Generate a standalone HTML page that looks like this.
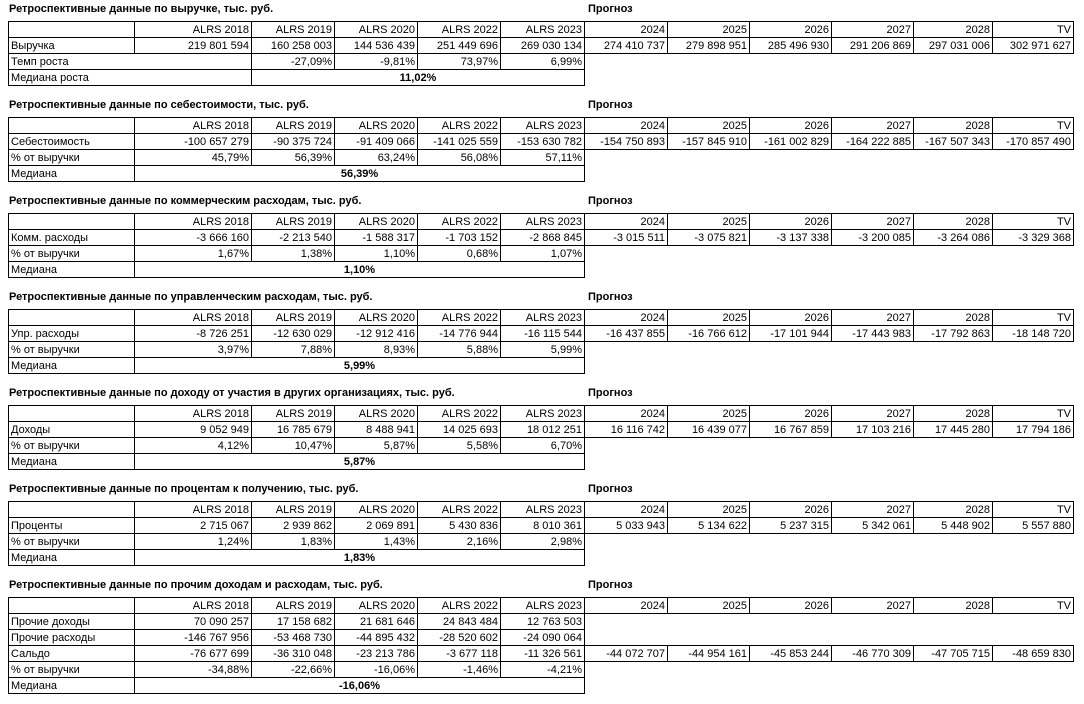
<!DOCTYPE html>
<html><head><meta charset="utf-8">
<style>
body{margin:0;width:1084px;height:704px;background:#fff;font-family:"Liberation Sans",Arial,sans-serif;font-size:11px;color:#000;position:relative;overflow:hidden}
.t{position:absolute;left:9px;font-weight:bold;font-size:11px;white-space:nowrap}
.p{position:absolute;left:588px;font-weight:bold;font-size:11px}
table{position:absolute;left:8px;border-collapse:collapse;table-layout:fixed;width:1065px}
td{border:1px solid #000;height:15px;padding:0 2px;text-align:right;white-space:nowrap;overflow:hidden;line-height:14px;font-size:11px}
td.l{text-align:left}
td.c{text-align:center;font-weight:bold}
td.n{border:none}
</style></head><body>
<colgroup></colgroup>

<div class="t" style="top:3px">Ретроспективные данные по выручке, тыс. руб.</div><div class="p" style="top:3px">Прогноз</div>
<table style="top:21px"><colgroup><col style="width:126px"><col style="width:117px"><col style="width:83px"><col style="width:83px"><col style="width:83px"><col style="width:84px"><col style="width:83px"><col style="width:82px"><col style="width:82px"><col style="width:82px"><col style="width:79px"><col style="width:81px"></colgroup>
<tr><td></td><td>ALRS 2018</td><td>ALRS 2019</td><td>ALRS 2020</td><td>ALRS 2022</td><td>ALRS 2023</td><td>2024</td><td>2025</td><td>2026</td><td>2027</td><td>2028</td><td>TV</td></tr>
<tr><td class="l">Выручка</td><td>219 801 594</td><td>160 258 003</td><td>144 536 439</td><td>251 449 696</td><td>269 030 134</td><td>274 410 737</td><td>279 898 951</td><td>285 496 930</td><td>291 206 869</td><td>297 031 006</td><td>302 971 627</td></tr>
<tr><td class="l" colspan="2">Темп роста</td><td>-27,09%</td><td>-9,81%</td><td>73,97%</td><td>6,99%</td><td class="n"></td><td class="n"></td><td class="n"></td><td class="n"></td><td class="n"></td><td class="n"></td></tr>
<tr><td class="l" colspan="2">Медиана роста</td><td class="c" colspan="4">11,02%</td><td class="n"></td><td class="n"></td><td class="n"></td><td class="n"></td><td class="n"></td><td class="n"></td></tr>
</table>

<div class="t" style="top:99px">Ретроспективные данные по себестоимости, тыс. руб.</div><div class="p" style="top:99px">Прогноз</div>
<table style="top:117px"><colgroup><col style="width:126px"><col style="width:117px"><col style="width:83px"><col style="width:83px"><col style="width:83px"><col style="width:84px"><col style="width:83px"><col style="width:82px"><col style="width:82px"><col style="width:82px"><col style="width:79px"><col style="width:81px"></colgroup>
<tr><td></td><td>ALRS 2018</td><td>ALRS 2019</td><td>ALRS 2020</td><td>ALRS 2022</td><td>ALRS 2023</td><td>2024</td><td>2025</td><td>2026</td><td>2027</td><td>2028</td><td>TV</td></tr>
<tr><td class="l">Себестоимость</td><td>-100 657 279</td><td>-90 375 724</td><td>-91 409 066</td><td>-141 025 559</td><td>-153 630 782</td><td>-154 750 893</td><td>-157 845 910</td><td>-161 002 829</td><td>-164 222 885</td><td>-167 507 343</td><td>-170 857 490</td></tr>
<tr><td class="l">% от выручки</td><td>45,79%</td><td>56,39%</td><td>63,24%</td><td>56,08%</td><td>57,11%</td><td class="n"></td><td class="n"></td><td class="n"></td><td class="n"></td><td class="n"></td><td class="n"></td></tr>
<tr><td class="l">Медиана</td><td class="c" colspan="5">56,39%</td><td class="n"></td><td class="n"></td><td class="n"></td><td class="n"></td><td class="n"></td><td class="n"></td></tr>
</table>

<div class="t" style="top:195px">Ретроспективные данные по коммерческим расходам, тыс. руб.</div><div class="p" style="top:195px">Прогноз</div>
<table style="top:213px"><colgroup><col style="width:126px"><col style="width:117px"><col style="width:83px"><col style="width:83px"><col style="width:83px"><col style="width:84px"><col style="width:83px"><col style="width:82px"><col style="width:82px"><col style="width:82px"><col style="width:79px"><col style="width:81px"></colgroup>
<tr><td></td><td>ALRS 2018</td><td>ALRS 2019</td><td>ALRS 2020</td><td>ALRS 2022</td><td>ALRS 2023</td><td>2024</td><td>2025</td><td>2026</td><td>2027</td><td>2028</td><td>TV</td></tr>
<tr><td class="l">Комм. расходы</td><td>-3 666 160</td><td>-2 213 540</td><td>-1 588 317</td><td>-1 703 152</td><td>-2 868 845</td><td>-3 015 511</td><td>-3 075 821</td><td>-3 137 338</td><td>-3 200 085</td><td>-3 264 086</td><td>-3 329 368</td></tr>
<tr><td class="l">% от выручки</td><td>1,67%</td><td>1,38%</td><td>1,10%</td><td>0,68%</td><td>1,07%</td><td class="n"></td><td class="n"></td><td class="n"></td><td class="n"></td><td class="n"></td><td class="n"></td></tr>
<tr><td class="l">Медиана</td><td class="c" colspan="5">1,10%</td><td class="n"></td><td class="n"></td><td class="n"></td><td class="n"></td><td class="n"></td><td class="n"></td></tr>
</table>

<div class="t" style="top:291px">Ретроспективные данные по управленческим расходам, тыс. руб.</div><div class="p" style="top:291px">Прогноз</div>
<table style="top:309px"><colgroup><col style="width:126px"><col style="width:117px"><col style="width:83px"><col style="width:83px"><col style="width:83px"><col style="width:84px"><col style="width:83px"><col style="width:82px"><col style="width:82px"><col style="width:82px"><col style="width:79px"><col style="width:81px"></colgroup>
<tr><td></td><td>ALRS 2018</td><td>ALRS 2019</td><td>ALRS 2020</td><td>ALRS 2022</td><td>ALRS 2023</td><td>2024</td><td>2025</td><td>2026</td><td>2027</td><td>2028</td><td>TV</td></tr>
<tr><td class="l">Упр. расходы</td><td>-8 726 251</td><td>-12 630 029</td><td>-12 912 416</td><td>-14 776 944</td><td>-16 115 544</td><td>-16 437 855</td><td>-16 766 612</td><td>-17 101 944</td><td>-17 443 983</td><td>-17 792 863</td><td>-18 148 720</td></tr>
<tr><td class="l">% от выручки</td><td>3,97%</td><td>7,88%</td><td>8,93%</td><td>5,88%</td><td>5,99%</td><td class="n"></td><td class="n"></td><td class="n"></td><td class="n"></td><td class="n"></td><td class="n"></td></tr>
<tr><td class="l">Медиана</td><td class="c" colspan="5">5,99%</td><td class="n"></td><td class="n"></td><td class="n"></td><td class="n"></td><td class="n"></td><td class="n"></td></tr>
</table>

<div class="t" style="top:387px">Ретроспективные данные по доходу от участия в других организациях, тыс. руб.</div><div class="p" style="top:387px">Прогноз</div>
<table style="top:405px"><colgroup><col style="width:126px"><col style="width:117px"><col style="width:83px"><col style="width:83px"><col style="width:83px"><col style="width:84px"><col style="width:83px"><col style="width:82px"><col style="width:82px"><col style="width:82px"><col style="width:79px"><col style="width:81px"></colgroup>
<tr><td></td><td>ALRS 2018</td><td>ALRS 2019</td><td>ALRS 2020</td><td>ALRS 2022</td><td>ALRS 2023</td><td>2024</td><td>2025</td><td>2026</td><td>2027</td><td>2028</td><td>TV</td></tr>
<tr><td class="l">Доходы</td><td>9 052 949</td><td>16 785 679</td><td>8 488 941</td><td>14 025 693</td><td>18 012 251</td><td>16 116 742</td><td>16 439 077</td><td>16 767 859</td><td>17 103 216</td><td>17 445 280</td><td>17 794 186</td></tr>
<tr><td class="l">% от выручки</td><td>4,12%</td><td>10,47%</td><td>5,87%</td><td>5,58%</td><td>6,70%</td><td class="n"></td><td class="n"></td><td class="n"></td><td class="n"></td><td class="n"></td><td class="n"></td></tr>
<tr><td class="l">Медиана</td><td class="c" colspan="5">5,87%</td><td class="n"></td><td class="n"></td><td class="n"></td><td class="n"></td><td class="n"></td><td class="n"></td></tr>
</table>

<div class="t" style="top:483px">Ретроспективные данные по процентам к получению, тыс. руб.</div><div class="p" style="top:483px">Прогноз</div>
<table style="top:501px"><colgroup><col style="width:126px"><col style="width:117px"><col style="width:83px"><col style="width:83px"><col style="width:83px"><col style="width:84px"><col style="width:83px"><col style="width:82px"><col style="width:82px"><col style="width:82px"><col style="width:79px"><col style="width:81px"></colgroup>
<tr><td></td><td>ALRS 2018</td><td>ALRS 2019</td><td>ALRS 2020</td><td>ALRS 2022</td><td>ALRS 2023</td><td>2024</td><td>2025</td><td>2026</td><td>2027</td><td>2028</td><td>TV</td></tr>
<tr><td class="l">Проценты</td><td>2 715 067</td><td>2 939 862</td><td>2 069 891</td><td>5 430 836</td><td>8 010 361</td><td>5 033 943</td><td>5 134 622</td><td>5 237 315</td><td>5 342 061</td><td>5 448 902</td><td>5 557 880</td></tr>
<tr><td class="l">% от выручки</td><td>1,24%</td><td>1,83%</td><td>1,43%</td><td>2,16%</td><td>2,98%</td><td class="n"></td><td class="n"></td><td class="n"></td><td class="n"></td><td class="n"></td><td class="n"></td></tr>
<tr><td class="l">Медиана</td><td class="c" colspan="5">1,83%</td><td class="n"></td><td class="n"></td><td class="n"></td><td class="n"></td><td class="n"></td><td class="n"></td></tr>
</table>

<div class="t" style="top:579px">Ретроспективные данные по прочим доходам и расходам, тыс. руб.</div><div class="p" style="top:579px">Прогноз</div>
<table style="top:597px"><colgroup><col style="width:126px"><col style="width:117px"><col style="width:83px"><col style="width:83px"><col style="width:83px"><col style="width:84px"><col style="width:83px"><col style="width:82px"><col style="width:82px"><col style="width:82px"><col style="width:79px"><col style="width:81px"></colgroup>
<tr><td></td><td>ALRS 2018</td><td>ALRS 2019</td><td>ALRS 2020</td><td>ALRS 2022</td><td>ALRS 2023</td><td>2024</td><td>2025</td><td>2026</td><td>2027</td><td>2028</td><td>TV</td></tr>
<tr><td class="l">Прочие доходы</td><td>70 090 257</td><td>17 158 682</td><td>21 681 646</td><td>24 843 484</td><td>12 763 503</td><td class="n"></td><td class="n"></td><td class="n"></td><td class="n"></td><td class="n"></td><td class="n"></td></tr>
<tr><td class="l">Прочие расходы</td><td>-146 767 956</td><td>-53 468 730</td><td>-44 895 432</td><td>-28 520 602</td><td>-24 090 064</td><td class="n"></td><td class="n"></td><td class="n"></td><td class="n"></td><td class="n"></td><td class="n"></td></tr>
<tr><td class="l">Сальдо</td><td>-76 677 699</td><td>-36 310 048</td><td>-23 213 786</td><td>-3 677 118</td><td>-11 326 561</td><td>-44 072 707</td><td>-44 954 161</td><td>-45 853 244</td><td>-46 770 309</td><td>-47 705 715</td><td>-48 659 830</td></tr>
<tr><td class="l">% от выручки</td><td>-34,88%</td><td>-22,66%</td><td>-16,06%</td><td>-1,46%</td><td>-4,21%</td><td class="n"></td><td class="n"></td><td class="n"></td><td class="n"></td><td class="n"></td><td class="n"></td></tr>
<tr><td class="l">Медиана</td><td class="c" colspan="5">-16,06%</td><td class="n"></td><td class="n"></td><td class="n"></td><td class="n"></td><td class="n"></td><td class="n"></td></tr>
</table>
</body></html>
